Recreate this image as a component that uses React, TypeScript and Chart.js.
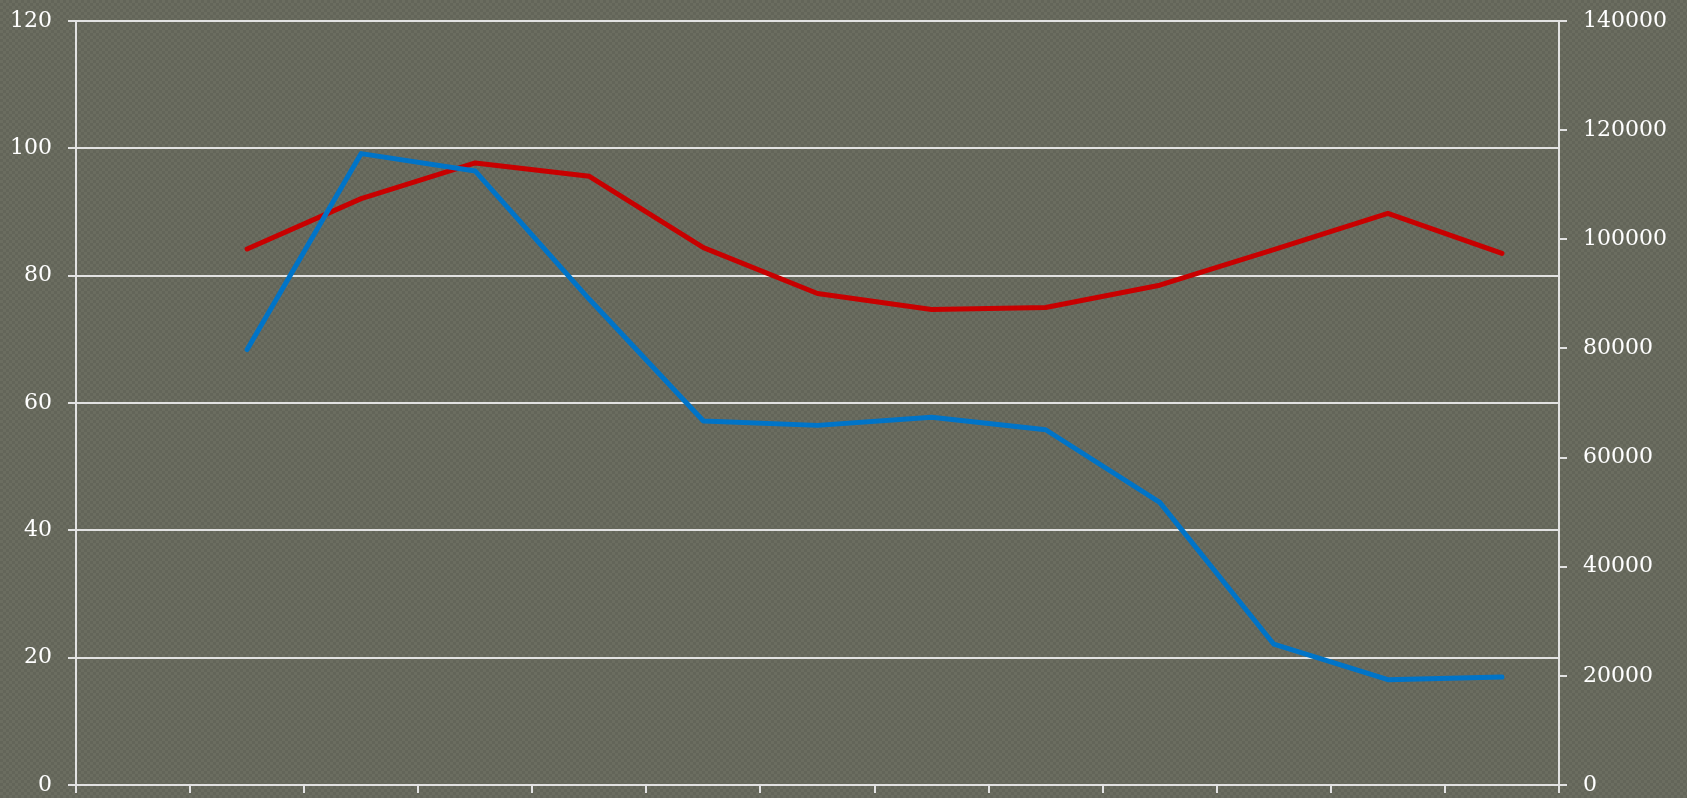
import { useEffect, useRef } from "react";
import { Chart, registerables } from "chart.js";

Chart.register(...registerables);

// Thirteen category slots; the first slot carries no data.
const categories = ["", "", "", "", "", "", "", "", "", "", "", "", ""];

// Red series, read on the left axis (0–120)
const redSeries = [null, 84.2, 92.1, 97.7, 95.6, 84.4, 77.2, 74.7, 75.0, 78.5, 84.1, 89.8, 83.5];

// Blue series, read on the right axis (0–140000)
const blueSeries = [null, 79800, 115700, 112500, 89000, 66700, 65900, 67400, 65100, 51800, 25800, 19300, 19800];

const leftTicks = [0, 20, 40, 60, 80, 100, 120];
const rightTicks = [0, 20000, 40000, 60000, 80000, 100000, 120000, 140000];

const RED = "#C80000";
const BLUE = "#0074C8";
const LINE = "#e2e2e2";
const FONT = { family: "'DejaVu Serif', serif", size: 22 };

// Keep the vertical axes from reserving extra room above and below the plot
const noVerticalPadding = (scale: any) => {
  scale.paddingTop = 0;
  scale.paddingBottom = 0;
};

export default function App() {
  const canvasRef = useRef<HTMLCanvasElement | null>(null);

  useEffect(() => {
    const canvas = canvasRef.current;
    if (!canvas) return;

    const chart = new Chart(canvas, {
      type: "line",
      data: {
        labels: categories,
        datasets: [
          {
            data: blueSeries,
            yAxisID: "y1",
            borderColor: BLUE,
            backgroundColor: BLUE,
            borderWidth: 5,
            borderCapStyle: "round",
            borderJoinStyle: "round",
            pointRadius: 0,
            tension: 0,
            order: 0,
          },
          {
            data: redSeries,
            yAxisID: "y",
            borderColor: RED,
            backgroundColor: RED,
            borderWidth: 5,
            borderCapStyle: "round",
            borderJoinStyle: "round",
            pointRadius: 0,
            tension: 0,
            order: 1,
          },
        ],
      },
      options: {
        animation: false,
        responsive: true,
        maintainAspectRatio: false,
        layout: { padding: { top: 21, left: 0, right: 0, bottom: 0 } },
        plugins: {
          legend: { display: false },
          tooltip: { enabled: false },
        },
        scales: {
          x: {
            offset: true,
            grid: {
              offset: true,
              drawOnChartArea: false,
              drawTicks: true,
              tickLength: 8,
              color: LINE,
              lineWidth: 2,
            },
            border: { display: true, color: LINE, width: 2 },
            ticks: { display: false },
            afterFit: (scale: any) => {
              scale.height = 13;
            },
          },
          y: {
            position: "left",
            min: 0,
            max: 120,
            afterBuildTicks: (scale: any) => {
              scale.ticks = leftTicks.map((v) => ({ value: v }));
            },
            grid: {
              color: LINE,
              lineWidth: 2,
              drawTicks: true,
              tickLength: 8,
            },
            border: { display: true, color: LINE, width: 2 },
            ticks: {
              color: "#ffffff",
              font: FONT,
              padding: 16,
              callback: (v: any) => String(v),
            },
            afterFit: (scale: any) => {
              scale.width = 76;
              noVerticalPadding(scale);
            },
          },
          y1: {
            position: "right",
            min: 0,
            max: 140000,
            afterBuildTicks: (scale: any) => {
              scale.ticks = rightTicks.map((v) => ({ value: v }));
            },
            grid: {
              drawOnChartArea: false,
              color: LINE,
              lineWidth: 2,
              drawTicks: true,
              tickLength: 8,
            },
            border: { display: true, color: LINE, width: 2 },
            ticks: {
              color: "#ffffff",
              font: FONT,
              padding: 16,
              callback: (v: any) => String(v),
            },
            afterFit: (scale: any) => {
              scale.width = 128;
              noVerticalPadding(scale);
            },
          },
        },
      },
    });

    return () => chart.destroy();
  }, []);

  return (
    <div
      style={{
        position: "fixed",
        left: 0,
        top: 0,
        width: "100vw",
        height: "100vh",
        background:
          "repeating-conic-gradient(#636559 0% 25%, #6b6d60 0% 50%) 0 0 / 6px 6px",
      }}
    >
      <canvas ref={canvasRef} />
    </div>
  );
}
